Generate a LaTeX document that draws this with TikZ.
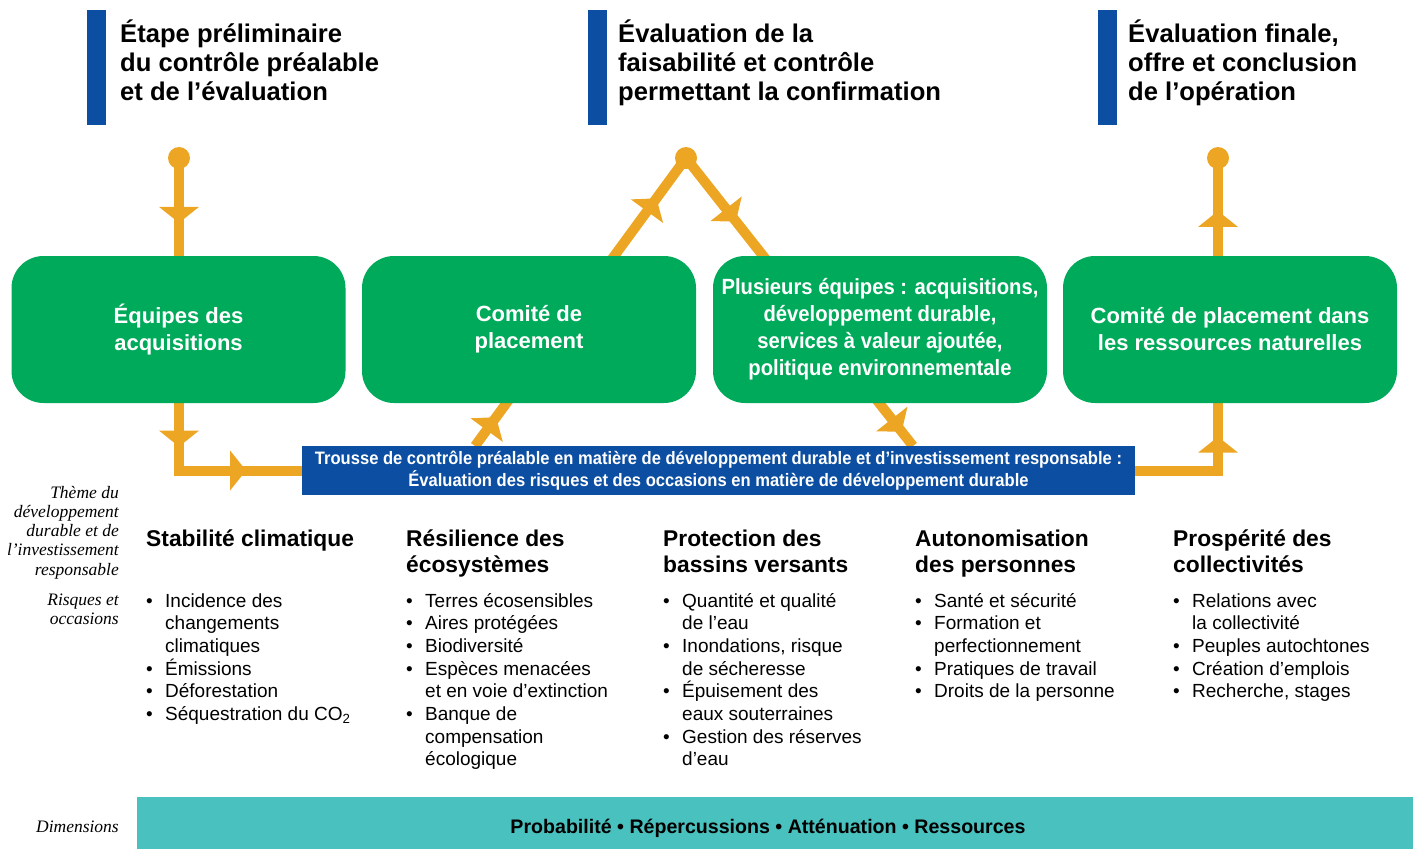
\documentclass[tikz,border=0pt]{standalone}
\usepackage{fontspec}
\setmainfont{Liberation Sans}
\newfontfamily\boxfont[FakeStretch=0.92]{Liberation Sans}
\newfontfamily\notefont{Liberation Serif}
\usetikzlibrary{arrows.meta,decorations.markings,positioning}
\definecolor{flowor}{RGB}{237,165,36}
\definecolor{teamgr}{RGB}{0,170,91}
\definecolor{kitbl}{RGB}{11,78,162}
\definecolor{dimteal}{RGB}{72,193,191}
\pgfdeclarelayer{bg}
\pgfsetlayers{bg,main}
\newcommand{\bul}{\makebox[19pt][l]{\textbullet}}
\newcommand{\ind}{\hspace*{19pt}}

\begin{document}
\begin{tikzpicture}
    [x=1pt,y=-1pt,
      phasebar/.style={fill=kitbl,minimum width=19pt,minimum height=115pt,inner sep=0pt},
      phase/.style={anchor=base west,align=left,inner sep=0pt,font=\bfseries\fontsize{25.6}{29}\selectfont},
      stage/.style={fill=teamgr,rounded corners=32pt,minimum width=334pt,minimum height=147pt,inner sep=0pt,
          text=white,align=center,font=\bfseries\fontsize{22}{27}\selectfont},
      kit/.style={fill=kitbl,minimum width=833pt,minimum height=49pt,inner sep=0pt,
          text=white,align=center,font=\boxfont\bfseries\fontsize{18}{22}\selectfont},
      band/.style={fill=dimteal,minimum width=1276pt,minimum height=52pt,inner sep=0pt},
      bandtext/.style={anchor=base,inner sep=0pt,font=\bfseries\fontsize{19.6}{22}\selectfont},
      theme/.style={anchor=base west,align=left,inner sep=0pt,font=\bfseries\fontsize{22.8}{26}\selectfont},
      risk/.style={anchor=base west,align=left,inner sep=0pt,font=\fontsize{19}{22.7}\selectfont},
      note/.style={anchor=base east,align=right,inner sep=0pt,font=\notefont\itshape\fontsize{17.5}{19.3}\selectfont},
      flow/.style={draw=flowor,line width=10pt},
      flowdot/.style={circle,fill=flowor,minimum size=22pt,inner sep=0pt},
      tip at/.style={postaction={decorate,decoration={markings,
          mark=at position #1 with {\arrow[flowor]{Triangle[width=40pt,length=16pt,line width=0pt]}}}}}
    ]
    \useasboundingbox (0,0) rectangle (1413,849);

    % phases (multi-line nodes sit on their last baseline)
    \node [phasebar] (barA) at (96.5,67.5) {};
    \node [phase] (phA) at (120,100) {Étape préliminaire\\du contrôle préalable\\et de l’évaluation};
    \node [phasebar] (barB) at (597.5,67.5) {};
    \node [phase] (phB) at (618,100) {Évaluation de la\\faisabilité et contrôle\\permettant la confirmation};
    \node [phasebar] (barC) at (1107.5,67.5) {};
    \node [phase] (phC) at (1128,100) {Évaluation finale,\\offre et conclusion\\de l’opération};

    % teams and committees
    \node [stage] (acq) at (178.5,329.5) {Équipes des\\acquisitions};
    \node [stage] (plac) at (529,329.5) {Comité de\\placement};
    \node [stage,font=\boxfont\bfseries\fontsize{22}{27}\selectfont] (equip) at (880,329.5) {Plusieurs équipes : acquisitions,\\développement durable,\\services à valeur ajoutée,\\politique environnementale};
    \node [stage] (natres) at (1230,329.5) {Comité de placement dans\\les ressources naturelles};

    \node [kit] (kit) at (718.5,470.5) {Trousse de contrôle préalable en matière de développement durable et d’investissement responsable :\\Évaluation des risques et des occasions en matière de développement durable};

    \node [flowdot] (dotA) at (179,158) {};
    \node [flowdot] (dotB) at (686,158) {};
    \node [flowdot] (dotC) at (1218,158) {};
    \coordinate (inA) at (475,446);
    \coordinate (inB) at (913,446);

    \begin{pgfonlayer}{bg}
      \draw [flow,tip at=0.149,tip at=0.663,tip at=0.872] (dotA.center) |- (kit.west);
      \draw [flow,tip at=0.10,tip at=0.86] (inA) -- (dotB.center);
      \draw [flow,tip at=0.22,tip at=0.95] (dotB.center) -- (inB);
      \draw [flow,tip at=0.295,tip at=0.866] (kit.east) -| (dotC.center);
    \end{pgfonlayer}

    % themes
    \node [note] (ntTheme) at (119,575.2) {Thème du\\développement\\durable et de\\l’investissement\\responsable};
    \node [note] (ntRisk) at (119,624.3) {Risques et\\occasions};

    \node [theme] (thClim) at (146,546) {Stabilité climatique};
    \node [theme] (thEco) at (406,572) {Résilience des\\écosystèmes};
    \node [theme] (thWat) at (663,572) {Protection des\\bassins versants};
    \node [theme] (thPeo) at (915,572) {Autonomisation\\des personnes};
    \node [theme] (thCom) at (1173,572) {Prospérité des\\collectivités};

    \node [risk] (rkClim) at (146,720.5) {\bul Incidence des\\\ind changements\\\ind climatiques\\\bul Émissions\\\bul Déforestation\\\bul Séquestration du CO\textsubscript{2}};
    \node [risk] (rkEco) at (406,765.9) {\bul Terres écosensibles\\\bul Aires protégées\\\bul Biodiversité\\\bul Espèces menacées\\\ind et en voie d’extinction\\\bul Banque de\\\ind compensation\\\ind écologique};
    \node [risk] (rkWat) at (663,765.9) {\bul Quantité et qualité\\\ind de l’eau\\\bul Inondations, risque\\\ind de sécheresse\\\bul Épuisement des\\\ind eaux souterraines\\\bul Gestion des réserves\\\ind d’eau};
    \node [risk] (rkPeo) at (915,697.8) {\bul Santé et sécurité\\\bul Formation et\\\ind perfectionnement\\\bul Pratiques de travail\\\bul Droits de la personne};
    \node [risk] (rkCom) at (1173,697.8) {\bul Relations avec\\\ind la collectivité\\\bul Peuples autochtones\\\bul Création d’emplois\\\bul Recherche, stages};

    % dimensions
    \node [note] (ntDim) at (119,832) {Dimensions};
    \node [band] (dims) at (775,823) {};
    \node [bandtext] (dimsTxt) at (768,833) {Probabilité • Répercussions • Atténuation • Ressources};
  \end{tikzpicture}
\end{document}
